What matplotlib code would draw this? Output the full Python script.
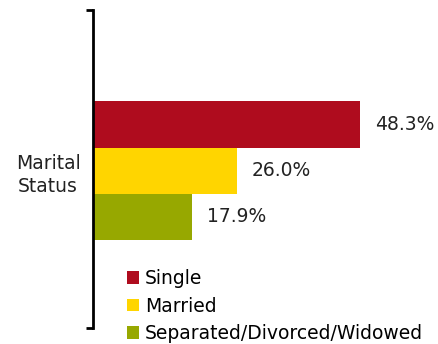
import matplotlib.pyplot as plt

# data
category = "Marital\nStatus"
labels = ["Single", "Married", "Separated/Divorced/Widowed"]
values = [48.3, 26.0, 17.9]
colors = ["#AF0C1E", "#FFD500", "#97A800"]

plt.rcParams['font.family'] = ['DejaVu Sans']
fs = 13.5

fig = plt.figure(figsize=(4.39, 3.44), dpi=100)
# axes placed in pixel terms: x 93..425, y 10..328 (from top)
ax = fig.add_axes([93 / 439, 1 - 328 / 344, 332 / 439, 318 / 344])

bar_h = 0.145
center = 0.495
offsets = [bar_h, 0, -bar_h]
for lab, v, c, off in zip(labels, values, colors, offsets):
    ax.barh(center + off, v, height=bar_h, color=c, label=lab)
    ax.text(v + 2.7, center + off, f"{v:.1f}%", va='center', ha='left', fontsize=fs, color='#222222')

ax.set_xlim(0, 60)
ax.set_ylim(0, 1)
for s in ['top', 'right', 'bottom']:
    ax.spines[s].set_visible(False)
ax.spines['left'].set_linewidth(2)
ax.set_xticks([])
ax.set_yticks([0, 1])
ax.set_yticklabels([])
ax.tick_params(axis='y', which='major', direction='out', length=5, width=2)
ax.set_yticks([center], minor=True)
ax.set_yticklabels([category], minor=True, fontsize=fs, color='#222222')
ax.tick_params(axis='y', which='minor', length=0, pad=9)
for t in ax.get_yticklabels(minor=True):
    t.set_multialignment('center')
    t.set_linespacing(1.3)

leg = ax.legend(loc='upper left', bbox_to_anchor=(127 / 439, 1 - 269 / 344),
                bbox_transform=fig.transFigure, frameon=False, fontsize=fs,
                handlelength=0.64, handleheight=0.64, handletextpad=0.32,
                labelspacing=0.46, borderpad=0, borderaxespad=0)

fig.savefig("out.png", dpi=100)
